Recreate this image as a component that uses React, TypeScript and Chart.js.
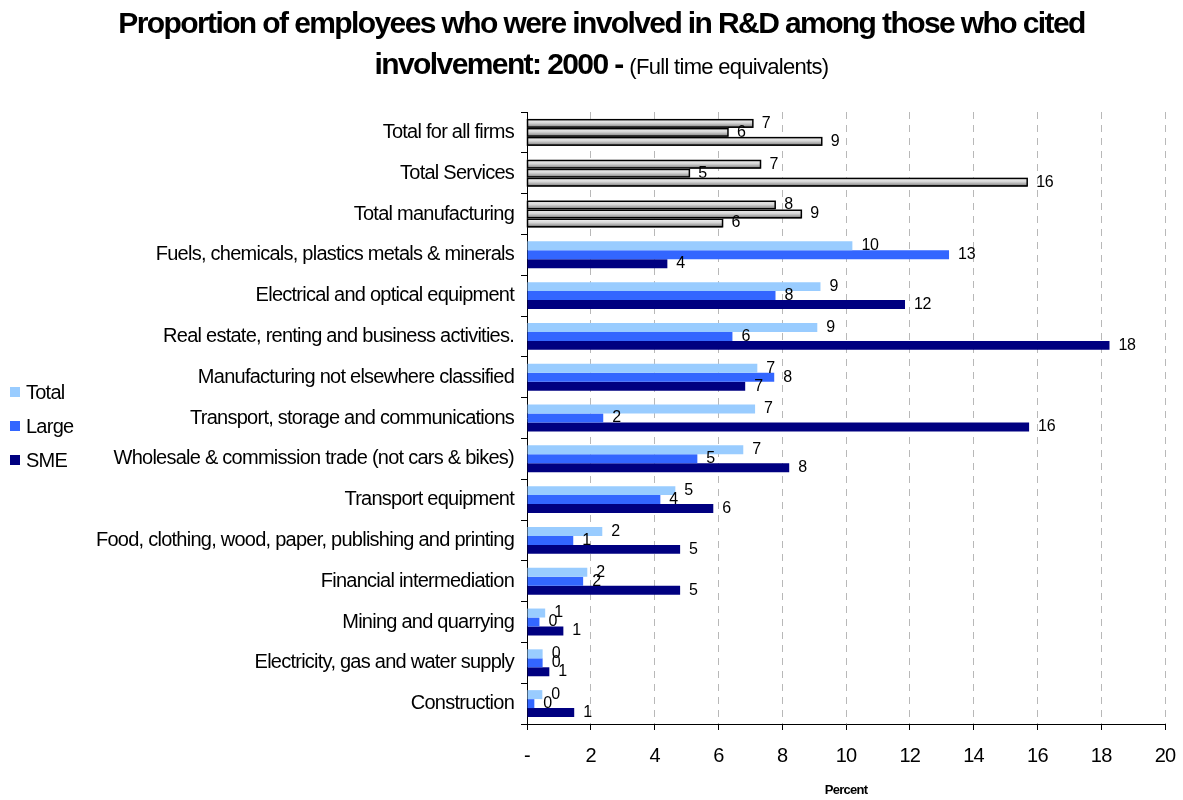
import React, { useEffect, useRef } from 'react';
import { Chart, registerables } from 'chart.js';

Chart.register(...registerables);

const categories = [
  'Total for all firms',
  'Total Services',
  'Total manufacturing',
  'Fuels, chemicals, plastics metals & minerals',
  'Electrical and optical equipment',
  'Real estate, renting and business activities.',
  'Manufacturing not elsewhere classified',
  'Transport, storage and communications',
  'Wholesale & commission trade (not cars & bikes)',
  'Transport equipment',
  'Food, clothing, wood, paper, publishing and printing',
  'Financial intermediation',
  'Mining and quarrying',
  'Electricity, gas and water supply',
  'Construction',
];

const totalValues = [7.08, 7.32, 7.78, 10.2, 9.2, 9.1, 7.22, 7.15, 6.78, 4.65, 2.36, 1.89, 0.57, 0.49, 0.48];
const largeValues = [6.3, 5.09, 8.6, 13.23, 7.79, 6.44, 7.75, 2.39, 5.34, 4.18, 1.45, 1.76, 0.39, 0.49, 0.23];
const smeValues = [9.24, 15.68, 6.13, 4.4, 11.85, 18.26, 6.84, 15.74, 8.22, 5.84, 4.8, 4.8, 1.14, 0.7, 1.48];

const seriesNames = ['Total', 'Large', 'SME'];
const seriesColors = ['#99ccff', '#3366ff', '#000080'];

const xMin = 0;
const xMax = 20;
const xStep = 2;
const summaryRows = 3;

const FONT = '"Liberation Sans", Arial, Helvetica, sans-serif';
const SPACING = '-0.75px';

const spacingPlugin = {
  id: 'spacing',
  beforeLayout(chart: any) {
    chart.ctx.letterSpacing = SPACING;
  },
  beforeDraw(chart: any) {
    chart.ctx.letterSpacing = SPACING;
  },
};

const barDecorPlugin = {
  id: 'barDecor',
  afterDatasetsDraw(chart: any) {
    const ctx = chart.ctx;
    ctx.save();
    ctx.letterSpacing = '-0.3px';
    chart.data.datasets.forEach((ds: any, di: number) => {
      const meta = chart.getDatasetMeta(di);
      meta.data.forEach((el: any, i: number) => {
        const p = el.getProps(['x', 'y', 'base', 'height'], true);
        if (i < summaryRows) {
          const top = p.y - p.height / 2;
          const bottom = p.y + p.height / 2;
          const g = ctx.createLinearGradient(0, top, 0, bottom);
          g.addColorStop(0, '#f6f6f6');
          g.addColorStop(0.45, '#d6d6d6');
          g.addColorStop(0.75, '#a0a0a0');
          g.addColorStop(1, '#505050');
          ctx.fillStyle = g;
          ctx.fillRect(p.base, top, p.x - p.base, p.height);
          ctx.lineWidth = 1.5;
          ctx.strokeStyle = '#000';
          ctx.strokeRect(p.base, top + 0.75, p.x - p.base, p.height - 1.5);
        }
        const v = ds.data[i];
        ctx.fillStyle = '#000';
        ctx.font = `16px ${FONT}`;
        ctx.textAlign = 'left';
        ctx.textBaseline = 'middle';
        ctx.fillText(String(Math.round(v)), p.x + 9, p.y);
      });
    });
    ctx.restore();
  },
};

export default function App() {
  const canvasRef = useRef<HTMLCanvasElement | null>(null);

  useEffect(() => {
    if (!canvasRef.current) return;
    const seriesValues = [totalValues, largeValues, smeValues];
    const chart = new Chart(canvasRef.current, {
      type: 'bar',
      data: {
        labels: categories,
        datasets: seriesNames.map((name, k) => ({
          label: name,
          data: seriesValues[k],
          backgroundColor: (c: any) => (c.dataIndex < summaryRows ? 'rgba(0,0,0,0)' : seriesColors[k]),
          borderWidth: 0,
          categoryPercentage: 0.66,
          barPercentage: 1,
        })),
      },
      options: {
        indexAxis: 'y',
        animation: false,
        responsive: false,
        maintainAspectRatio: false,
        layout: { padding: { top: 112, right: 0, left: 0, bottom: 0 } },
        plugins: {
          legend: { display: false },
          tooltip: { enabled: false },
          title: { display: false },
        },
        scales: {
          x: {
            type: 'linear',
            min: xMin,
            max: xMax,
            afterFit: (s: any) => {
              s.height = 76;
              s.paddingRight = 18;
            },
            ticks: {
              stepSize: xStep,
              color: '#000',
              font: { family: FONT, size: 20 },
              padding: 14,
              callback: (v: any) => (Number(v) === 0 ? '-' : String(v)),
              maxRotation: 0,
            },
            grid: {
              color: (c: any) => (c.tick && c.tick.value === 0 ? 'rgba(0,0,0,0)' : '#b8b8b8'),
              lineWidth: 1,
              tickColor: '#000',
              tickLength: 6,
              tickBorderDash: [],
            },
            border: { display: true, color: '#000', width: 1, dash: [7, 6] },
            title: {
              display: true,
              text: 'Percent',
              color: '#000',
              font: { family: FONT, size: 13, weight: 'bold' },
              padding: { top: 0, bottom: 2 },
            },
          },
          y: {
            type: 'category',
            afterFit: (s: any) => {
              s.width = 527;
            },
            ticks: {
              color: '#000',
              font: { family: FONT, size: 20 },
              padding: 7,
            },
            grid: {
              drawOnChartArea: false,
              offset: true,
              color: '#000',
              tickLength: 6,
            },
            border: { display: true, color: '#000', width: 1 },
          },
        },
      } as any,
      plugins: [spacingPlugin, barDecorPlugin],
    });
    return () => chart.destroy();
  }, []);

  return (
    <div style={{ position: 'absolute', left: 0, top: 0, width: 1183, height: 800, background: '#fff', fontFamily: FONT }}>
      <canvas ref={canvasRef} width={1183} height={800} style={{ position: 'absolute', left: 0, top: 0 }} />
      <div
        style={{
          position: 'absolute',
          left: 0,
          top: 5,
          width: 1203,
          textAlign: 'center',
          fontSize: 30,
          fontWeight: 'bold',
          letterSpacing: '-1.6px',
          lineHeight: '36px',
          color: '#000',
        }}
      >
        Proportion of employees who were involved in R&amp;D among those who cited
      </div>
      <div
        style={{
          position: 'absolute',
          left: 0,
          top: 46,
          width: 1203,
          textAlign: 'center',
          lineHeight: '36px',
          color: '#000',
        }}
      >
        <span style={{ fontSize: 30, fontWeight: 'bold', letterSpacing: '-1.6px' }}>involvement: 2000 - </span>
        <span style={{ fontSize: 22, letterSpacing: '-0.7px' }}>(Full time equivalents)</span>
      </div>
      {seriesNames.map((name, k) => (
        <div
          key={name}
          style={{
            position: 'absolute',
            left: 10,
            top: 381 + k * 34,
            height: 22,
            display: 'flex',
            alignItems: 'center',
            fontSize: 20,
            letterSpacing: SPACING,
            color: '#000',
          }}
        >
          <span style={{ display: 'inline-block', width: 10, height: 10, background: seriesColors[k], marginRight: 6 }} />
          {name}
        </div>
      ))}
    </div>
  );
}
